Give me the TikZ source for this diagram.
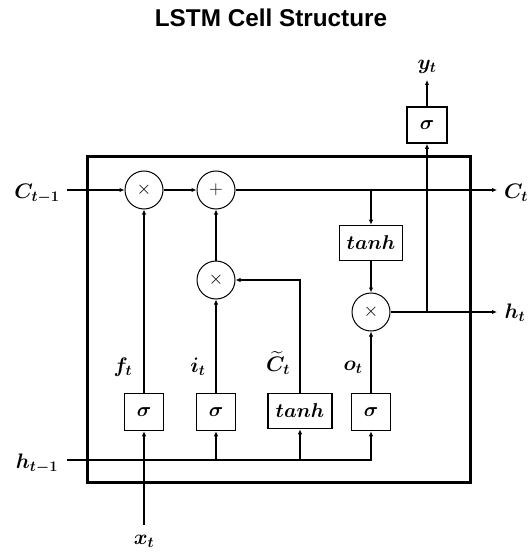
\RequirePackage{fix-cm}
\documentclass[tikz,border=0pt]{standalone}
\usepackage{fontspec}
\usepackage{amsmath}
\usepackage{bm}
\newfontfamily\titlefont{Liberation Sans}
\usetikzlibrary{arrows.meta}
\begin{document}
\begin{tikzpicture}[x=1pt,y=-1pt,
  conn/.style={line width=1.4pt},
  arr/.style={conn,-{Latex[length=5pt,width=4.5pt]}},
  op/.style={circle,draw,line width=1pt,minimum size=38pt,inner sep=0pt,font=\fontsize{19}{19}\selectfont},
  gate/.style={draw,line width=1.6pt,minimum width=39pt,minimum height=37pt,inner sep=0pt,font=\fontsize{20}{20}\selectfont},
  lbl/.style={inner sep=0pt,font=\fontsize{21}{21}\selectfont}]
\useasboundingbox (0,0) rectangle (530,556);
\node[font=\titlefont\bfseries\fontsize{24.3}{25}\selectfont] (title) at (271,18) {LSTM Cell Structure};
% cell border
\node[draw,line width=3pt,minimum width=383pt,minimum height=325pt,inner sep=0pt] (cell) at (278.5,319.5) {};
% operators
\node[op] (fx) at (144,190) {$\times$};
\node[op] (add) at (216,190) {$+$};
\node[op] (ix) at (216,280) {$\times$};
\node[op] (ox) at (371,312) {$\times$};
% gates
\node[gate,minimum width=63pt,minimum height=35pt] (tanhC) at (371,243) {$\bm{tanh}$};
\node[gate,minimum width=40pt,minimum height=36pt] (sy) at (427,125) {$\bm{\sigma}$};
\node[gate] (sf) at (144,412) {$\bm{\sigma}$};
\node[gate] (si) at (216,412) {$\bm{\sigma}$};
\node[gate,minimum width=64pt,minimum height=35pt] (tc) at (300,411) {$\bm{tanh}$};
\node[gate] (so) at (371,412) {$\bm{\sigma}$};
% coordinates
\coordinate (cin) at (67,190);
\coordinate (cout) at (497,190);
\coordinate (jt) at (371,190);
\coordinate (hout) at (497,312);
\coordinate (jh) at (427,312);
\coordinate (ytip) at (427,80);
\coordinate (hin) at (67,460);
\coordinate (hi) at (216,460);
\coordinate (hc) at (300,460);
\coordinate (xin) at (144,525);
% connectors
\draw[arr] (cin) -- (fx);
\draw[arr] (fx) -- (add);
\draw[arr] (add) -- (cout);
\draw[arr] (jt) -- (tanhC);
\draw[arr] (tanhC) -- (ox);
\draw[arr] (ox) -- (hout);
\draw[arr] (jh) -- (sy);
\draw[arr] (sy) -- (ytip);
\draw[arr] (ix) -- (add);
\draw[arr] (tc) |- (ix);
\draw[arr] (sf) -- (fx);
\draw[arr] (si) -- (ix);
\draw[arr] (so) -- (ox);
\draw[arr] (hin) -| (so);
\draw[arr] (hi) -- (si);
\draw[arr] (hc) -- (tc);
\draw[arr] (xin) -- (sf);
% labels
\node[lbl] (lCm) at (37,194) {$\bm{C_{t-1}}$};
\node[lbl] (lhm) at (37,464) {$\bm{h_{t-1}}$};
\node[lbl] (lCt) at (516,193) {$\bm{C_t}$};
\node[lbl] (lht) at (515,313) {$\bm{h_t}$};
\node[lbl] (lyt) at (427,67) {$\bm{y_t}$};
\node[lbl] (lxt) at (144,541) {$\bm{x_t}$};
\node[lbl] (lft) at (123,367) {$\bm{f_t}$};
\node[lbl] (lit) at (198,367) {$\bm{i_t}$};
\node[lbl] (lCtt) at (278,363) {$\bm{\widetilde{C}_t}$};
\node[lbl] (lot) at (353,367) {$\bm{o_t}$};
\end{tikzpicture}
\end{document}
